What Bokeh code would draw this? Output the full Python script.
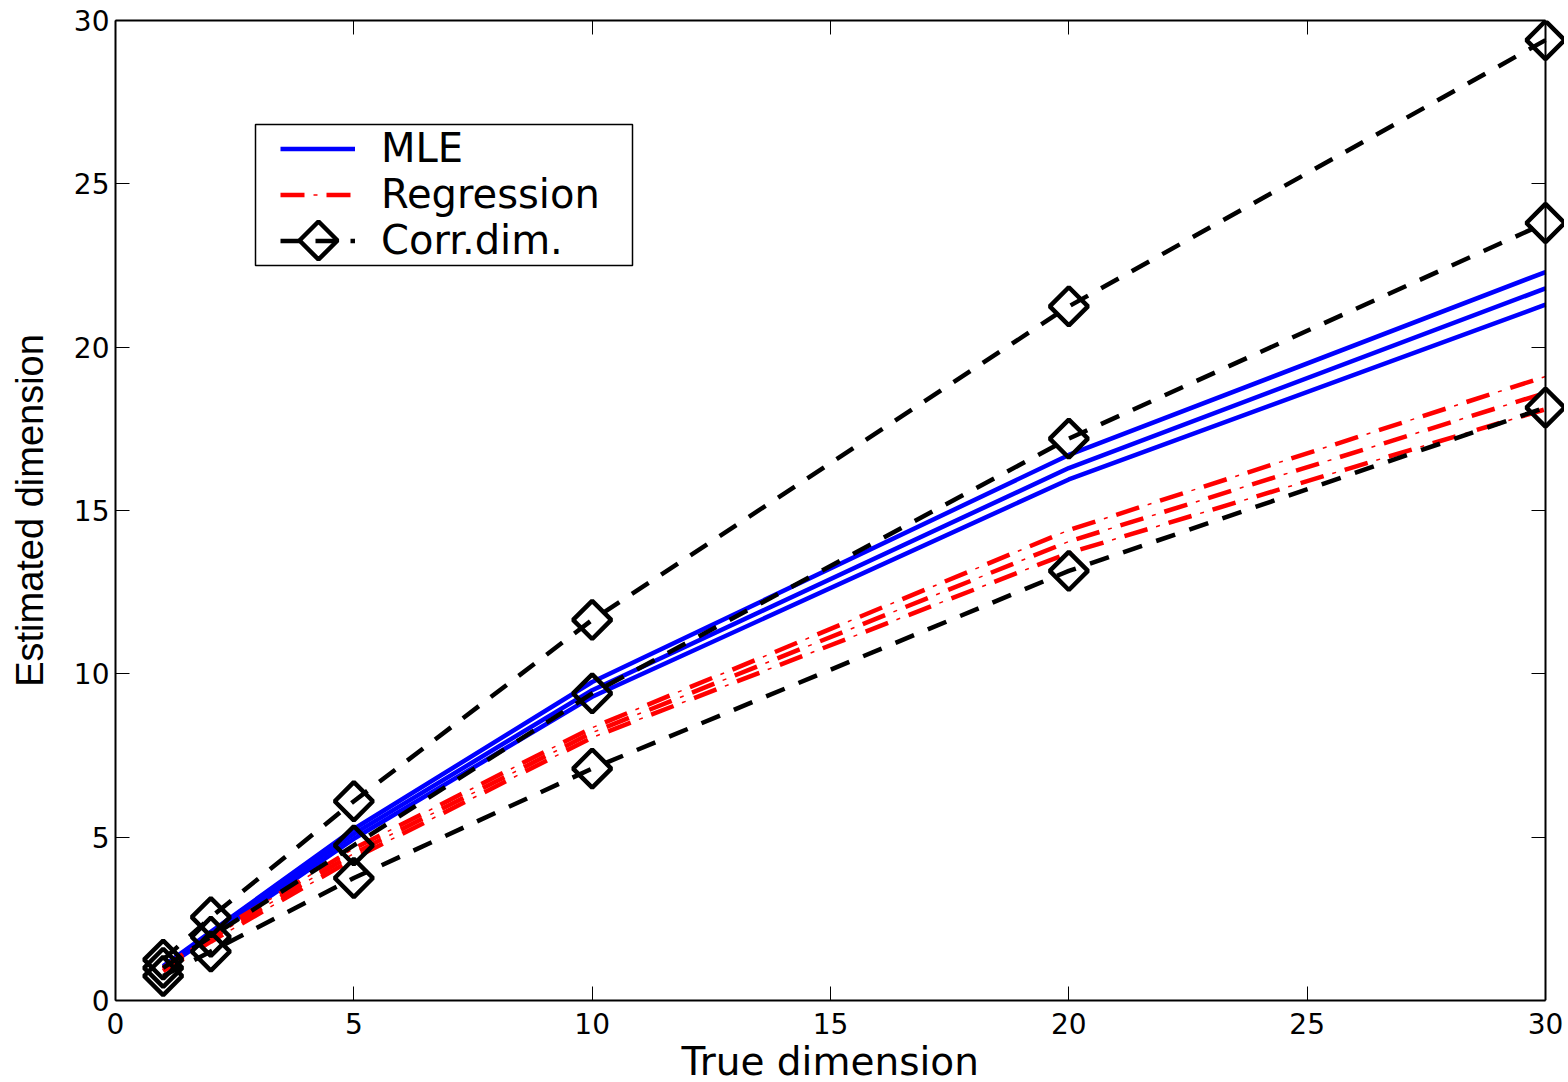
import numpy as np
from bokeh.plotting import figure
from bokeh.models import (LinearAxis, Legend, LegendItem, FixedTicker, Range1d,
                          BoxAnnotation, PolyAnnotation)
from bokeh.embed import file_html
from bokeh.resources import INLINE

# ---- data ----
true_dim = [1, 2, 5, 10, 20, 30]
mle_upper = [1.05, 2.1, 5.25, 9.75, 16.7, 22.3]
mle_mean = [1.0, 2.05, 5.1, 9.5, 16.3, 21.8]
mle_lower = [0.97, 1.95, 4.95, 9.3, 15.95, 21.3]
reg_upper = [1.0, 2.0, 4.65, 8.35, 14.4, 19.1]
reg_mean = [0.95, 1.9, 4.5, 8.2, 14.05, 18.6]
reg_lower = [0.9, 1.8, 4.35, 8.05, 13.7, 18.1]
cd_upper = [1.25, 2.55, 6.1, 11.65, 21.25, 29.4]
cd_mean = [1.0, 1.95, 4.75, 9.4, 17.2, 23.8]
cd_lower = [0.75, 1.5, 3.75, 7.1, 13.15, 18.15]
ticks = [0, 5, 10, 15, 20, 25, 30]
x_max = 30
y_max = 30

FONT = "DejaVu Sans"
LW = 4.5

# frame: 1430 px for 0..30, a little extra room on the right so that
# the markers at x=30 are not clipped (MATLAB style)
px_per_unit = 1430 / x_max
frame_w = 1449
x_end = x_max + (frame_w - 1430) / px_per_unit

p = figure(frame_width=frame_w, frame_height=980,
           x_range=Range1d(0, x_end), y_range=Range1d(0, y_max),
           output_backend="svg", toolbar_location=None,
           min_border_left=115, min_border_top=20, min_border_right=0,
           min_border_bottom=60)
p.grid.visible = False
p.outline_line_color = None
p.background_fill_color = "white"
p.border_fill_color = "white"

def style_axis(ax, labels=True):
    ax.ticker = FixedTicker(ticks=ticks)
    ax.minor_tick_line_color = None
    ax.major_tick_in = 14
    ax.major_tick_out = 0
    ax.major_tick_line_width = 1
    ax.axis_line_width = 2
    ax.axis_line_color = "black"
    ax.major_tick_line_color = "black"
    ax.bounds = (0, 30)
    if labels:
        ax.major_label_text_font = FONT
        ax.major_label_text_font_size = "28px"
        ax.major_label_text_color = "black"
    else:
        ax.major_label_text_font_size = "0px"
        ax.major_label_text_alpha = 0
        ax.major_label_standoff = 0

for ax in p.xaxis:
    style_axis(ax)
    ax.major_label_standoff = 12
    # trailing en space re-centres the label on 0..30 (frame is slightly wider)
    ax.axis_label = "True dimension\u2002"
    ax.axis_label_text_font = FONT
    ax.axis_label_text_font_size = "39px"
    ax.axis_label_text_font_style = "normal"
    ax.axis_label_text_color = "black"
    ax.axis_label_standoff = 2
for ax in p.yaxis:
    style_axis(ax)
    ax.major_label_standoff = 6
    ax.axis_label = "Estimated dimension"
    ax.axis_label_text_font = "Liberation Sans"
    ax.axis_label_text_font_size = "38px"
    ax.axis_label_text_font_style = "normal"
    ax.axis_label_text_color = "black"
    ax.axis_label_standoff = 20

top = LinearAxis()
style_axis(top, labels=False)
p.add_layout(top, "above")
right = LinearAxis(fixed_location=x_max)
style_axis(right, labels=False)
p.add_layout(right, "right")

# MLE
mle_r = None
for ys in (mle_upper, mle_mean, mle_lower):
    r = p.line(true_dim, ys, line_color="#0000ff", line_width=LW)
    mle_r = mle_r or r

# Regression: thick dashes + thin dots (dash-dot)
reg_r = None
for ys in (reg_upper, reg_mean, reg_lower):
    r1 = p.line(true_dim, ys, line_color="#ff0000", line_width=LW, line_dash="24 22")
    r2 = p.line(true_dim, ys, line_color="#ff0000", line_width=1.5,
                line_dash="4 42", line_dash_offset=13)
    reg_r = reg_r or [r1, r2]

# Correlation dimension
cd_line = None
for ys in (cd_upper, cd_mean, cd_lower):
    lr = p.line(true_dim, ys, line_color="black", line_width=LW, line_dash="20 15")
    p.scatter(true_dim, ys, marker="square", angle=np.pi / 4, size=27,
              fill_color=None, line_color="black", line_width=LW)
    cd_line = cd_line or lr

legend = Legend(items=[
    LegendItem(label="MLE", renderers=[mle_r]),
    LegendItem(label="Regression", renderers=reg_r),
    LegendItem(label="Corr.dim.", renderers=[cd_line]),
], location=(165, 737))
legend.label_text_font = FONT
legend.label_text_font_size = "40px"
legend.label_text_color = "black"
legend.glyph_width = 75
legend.glyph_height = 45
legend.label_height = 45
legend.label_standoff = 26
legend.spacing = 0
legend.padding = 0
legend.border_line_color = None
legend.background_fill_alpha = 0
p.add_layout(legend, "center")

# legend frame and legend marker (canvas pixels)
p.add_layout(BoxAnnotation(left=255, right=632, top=124, bottom=265,
                           left_units="canvas", right_units="canvas",
                           top_units="canvas", bottom_units="canvas",
                           fill_alpha=0, line_color="black", line_width=1.5,
                           line_alpha=1))
cx, cy, h = 318, 240, 19
p.add_layout(PolyAnnotation(xs=[cx - h, cx, cx + h, cx], ys=[cy, cy - h, cy, cy + h],
                            xs_units="canvas", ys_units="canvas",
                            fill_alpha=0, line_color="black", line_width=LW,
                            line_alpha=1))

open("out.html", "w").write(file_html(p, INLINE))
